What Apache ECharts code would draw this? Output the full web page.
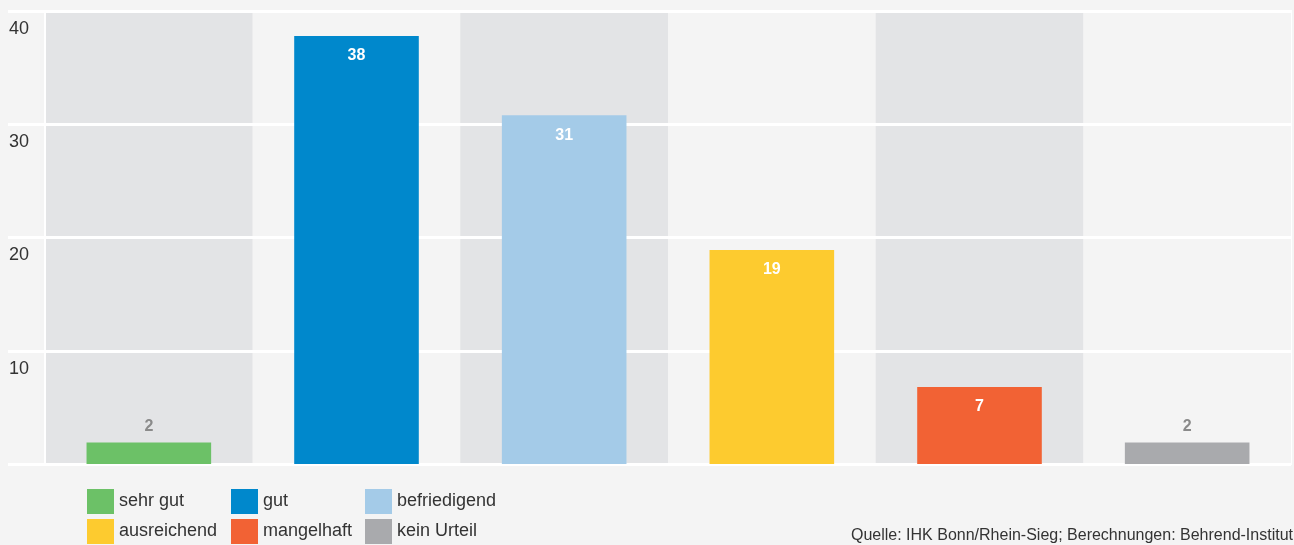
<!DOCTYPE html>
<html>
<head>
<meta charset="utf-8">
<script src="https://cdn.jsdelivr.net/npm/echarts@6/dist/echarts.min.js"></script>
<style>
html,body{margin:0;padding:0;background:#f4f4f4;}
#chart{width:1294px;height:545px;}
</style>
</head>
<body>
<div id="chart"></div>
<script>
const categories = ['sehr gut', 'gut', 'befriedigend', 'ausreichend', 'mangelhaft', 'kein Urteil'];
const values = [1.9, 37.8, 30.8, 18.9, 6.8, 1.9];
const colors = ['#6cc167', '#0088cc', '#a4cbe8', '#fdcb2f', '#f26234', '#a9aaad'];
const yTicks = [0, 10, 20, 30, 40];
const sourceText = 'Quelle: IHK Bonn/Rhein-Sieg; Berechnungen: Behrend-Institut';

const FONT = '"Liberation Sans", Arial, sans-serif';

const series = categories.map((name, i) => {
  const small = values[i] < 5;
  return {
    name: name,
    type: 'bar',
    z: 5,
    barWidth: '60%',
    barGap: '-100%',
    itemStyle: { color: colors[i] },
    label: {
      show: true,
      position: small ? 'top' : 'insideTop',
      distance: small ? 8 : 12,
      color: small ? '#8a8a8a' : '#ffffff',
      fontWeight: 'bold',
      fontSize: 16,
      fontFamily: FONT,
      formatter: p => String(Math.round(p.value))
    },
    emphasis: { disabled: true },
    data: categories.map((c, j) => j === i ? values[i] : '-')
  };
});

const legendStyle = {
  orient: 'vertical',
  icon: 'rect',
  itemWidth: 27,
  itemHeight: 25,
  itemGap: 5,
  padding: 0,
  top: 489,
  selectedMode: false,
  textStyle: { fontSize: 18, color: '#333', fontFamily: FONT }
};

const option = {
  backgroundColor: '#f4f4f4',
  animation: false,
  textStyle: { fontFamily: FONT },
  grid: {
    left: 45, right: 3, top: 11, bottom: 81,
    show: true, borderColor: '#ffffff', borderWidth: 2, backgroundColor: 'transparent'
  },
  legend: [
    Object.assign({}, legendStyle, { left: 87, data: [categories[0], categories[3]] }),
    Object.assign({}, legendStyle, { left: 231, data: [categories[1], categories[4]] }),
    Object.assign({}, legendStyle, { left: 365, data: [categories[2], categories[5]] })
  ],
  title: {
    text: sourceText,
    right: 1,
    bottom: 1,
    padding: 0,
    textStyle: { fontSize: 16, fontWeight: 'normal', color: '#333', fontFamily: FONT }
  },
  xAxis: {
    type: 'category',
    z: 0,
    data: categories,
    axisLine: { show: false },
    axisTick: { show: false },
    axisLabel: { show: false },
    splitLine: { show: false },
    splitArea: { show: true, areaStyle: { color: ['#e3e4e6', '#f4f4f4'] } }
  },
  yAxis: {
    type: 'value',
    z: 1,
    min: yTicks[0],
    max: yTicks[yTicks.length - 1],
    interval: 10,
    axisLine: { show: true, lineStyle: { color: '#ffffff', width: 2 } },
    axisTick: { show: true, length: 37, lineStyle: { color: '#ffffff', width: 3 } },
    splitLine: { show: true, lineStyle: { color: '#ffffff', width: 3 } },
    axisLabel: {
      show: true,
      align: 'left',
      verticalAlign: 'top',
      lineHeight: 36,
      margin: 36,
      fontSize: 18,
      color: '#333',
      fontFamily: FONT,
      formatter: v => v === 0 ? '' : String(v)
    }
  },
  series: series
};

const chart = echarts.init(document.getElementById('chart'), null, { renderer: 'canvas' });
chart.setOption(option);
</script>
</body>
</html>
